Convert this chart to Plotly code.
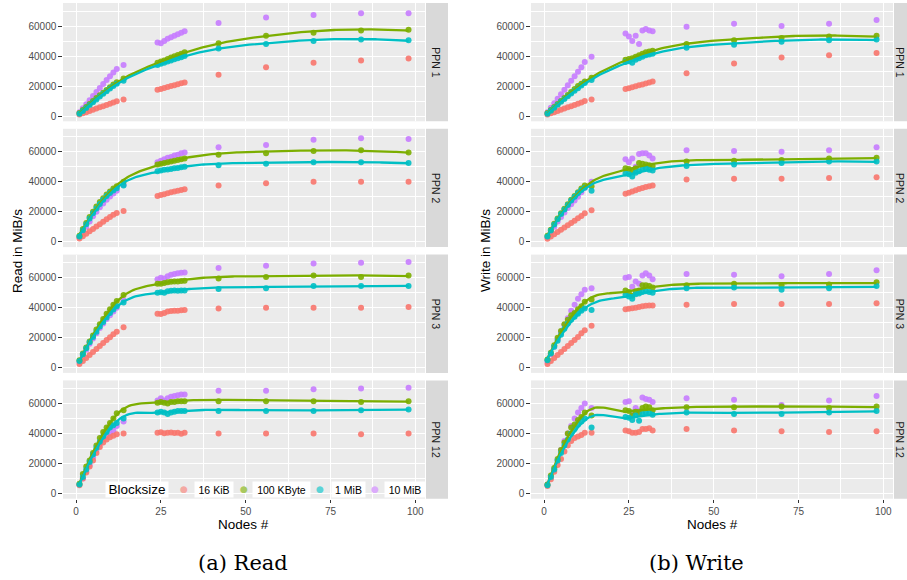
import numpy as np
import plotly.graph_objects as go

# ---------------- data ----------------
nodes = [1, 2, 3, 4, 5, 6, 7, 8, 9, 10, 11, 12, 14,
         24, 25, 26, 27, 28, 29, 30, 31, 32,
         42, 56, 70, 84, 98]
blocksizes = ["16 KiB", "100 KByte", "1 MiB", "10 MiB"]
ppn_labels = ["PPN 1", "PPN 2", "PPN 3", "PPN 12"]
x_ticks = [0, 25, 50, 75, 100]
y_ticks = [0, 20000, 40000, 60000]

# Read
read_ppn1_16k = [1000, 1800, 2600, 3400, 4200, 5000, 5800, 6600, 7400, 8200, 9000, 9800, 11000,
                 17500, 18000, 18700, 19300, 20000, 20600, 21200, 21800, 22400,
                 27500, 32500, 35500, 37000, 38300]
read_ppn1_100k = [2000, 4000, 6000, 8000, 10000, 12000, 13800, 15600, 17400, 19200, 21000, 22600, 25000,
                  35500, 36300, 37100, 38000, 39000, 39800, 40700, 41600, 42500,
                  48500, 53500, 55500, 57000, 57500]
read_ppn1_1m = [1500, 3400, 5400, 7300, 9200, 11100, 13000, 14800, 16600, 18400, 20100, 21500, 23500,
                34000, 34800, 35500, 36300, 37000, 37800, 38500, 39200, 40000,
                45000, 48000, 50000, 51000, 50500]
read_ppn1_10m = [2500, 5200, 7900, 10600, 13300, 16000, 18700, 21400, 24000, 26600, 29000, 31300, 34000,
                 49000, 48500, 50000, 51500, 52500, 53500, 54500, 55500, 56500,
                 62000, 65700, 67300, 68500, 68500]

read_ppn2_16k = [2200, 3800, 5400, 7000, 8600, 10200, 11800, 13400, 15000, 16500, 18000, 19300, 20500,
                 30500, 31200, 31800, 32400, 33000, 33600, 34100, 34600, 35100,
                 37500, 39000, 40000, 40000, 40000]
read_ppn2_100k = [4000, 8500, 12500, 16500, 20000, 23500, 26500, 29000, 31500, 33500, 35500, 37000, 40000,
                  51500, 52000, 52500, 53000, 53500, 54000, 54500, 55000, 55500,
                  58000, 59000, 60500, 61000, 59500]
read_ppn2_1m = [3500, 7800, 11800, 15600, 19000, 22300, 25300, 28000, 30500, 32500, 34300, 35800, 37500,
                47000, 47500, 48000, 48200, 48600, 49000, 49300, 49700, 50000,
                51000, 52000, 53000, 53000, 52500]
read_ppn2_10m = [3000, 6500, 10000, 13500, 17000, 20000, 23000, 25500, 28000, 30200, 32200, 34000, 38000,
                 53000, 54000, 55000, 56000, 56500, 57500, 58000, 59000, 59500,
                 63000, 64500, 68000, 69000, 68500]

read_ppn3_16k = [2500, 4500, 6500, 8500, 10500, 12500, 14500, 16500, 18500, 20300, 22200, 24000, 27000,
                 36000, 35800, 36500, 37500, 37800, 38000, 38000, 38200, 38500,
                 39500, 40000, 40000, 40000, 40500]
read_ppn3_100k = [5000, 9500, 13500, 17500, 21500, 25500, 29000, 32500, 36000, 39000, 42000, 44500, 48500,
                  56000, 56000, 56500, 57000, 57200, 57500, 57500, 57800, 58000,
                  59500, 60500, 61500, 60500, 61500]
read_ppn3_1m = [4500, 9000, 13000, 17000, 20500, 24000, 27500, 30500, 33500, 36500, 38800, 41000, 43500,
                50000, 50300, 50000, 51000, 51200, 51500, 51200, 51400, 51500,
                52500, 53000, 54500, 54500, 54500]
read_ppn3_10m = [4000, 8000, 12000, 16000, 19500, 23000, 26500, 29500, 32500, 35000, 37500, 40000, 45000,
                 59000, 60000, 59500, 61000, 62000, 62500, 63000, 63200, 63500,
                 66500, 68000, 69500, 70000, 70500]

read_ppn12_16k = [5500, 10000, 14000, 18000, 22000, 27000, 31000, 34000, 36000, 37500, 38500, 39500, 40000,
                  40500, 40800, 40200, 40500, 40600, 40300, 40400, 39800, 40500,
                  40000, 40000, 40000, 39500, 40000]
read_ppn12_100k = [6500, 13000, 18000, 22000, 27000, 32000, 37000, 41000, 44000, 47000, 50000, 53500, 55500,
                   60500, 61000, 60500, 60000, 61000, 61000, 61500, 61500, 61500,
                   61500, 61500, 61500, 61000, 61500]
read_ppn12_1m = [6000, 11000, 16000, 21000, 26000, 30500, 34500, 38000, 41000, 44000, 45500, 47000, 50000,
                 54000, 54500, 54000, 53000, 54000, 54500, 55000, 55000, 55000,
                 55000, 55000, 55000, 55500, 56000]
read_ppn12_10m = [6000, 10000, 15000, 19000, 24000, 29000, 33000, 36000, 38000, 40000, 42000, 45000, 48000,
                  62000, 63500, 62000, 63500, 64500, 65000, 65500, 66000, 66000,
                  68500, 68500, 69500, 70000, 70500]

# Write
write_ppn1_16k = [1000, 1800, 2600, 3400, 4200, 5000, 5800, 6600, 7400, 8200, 9100, 10000, 11000,
                  18000, 18600, 19200, 19800, 20500, 21100, 21700, 22300, 23000,
                  28500, 35000, 39000, 40500, 42000]
write_ppn1_100k = [2000, 4000, 6000, 8000, 10000, 12000, 14000, 16000, 18000, 20000, 21500, 23000, 25500,
                   37500, 38000, 38500, 39500, 40500, 41500, 42500, 43000, 43500,
                   48000, 50500, 52000, 53000, 53500]
write_ppn1_1m = [1500, 3500, 5500, 7500, 9500, 11300, 13200, 15000, 16800, 18600, 20300, 22000, 24000,
                 36000, 36500, 35500, 37500, 38500, 39500, 40500, 41000, 41500,
                 45500, 47500, 49500, 50500, 51000]
write_ppn1_10m = [2500, 5500, 8500, 11500, 14500, 17500, 20500, 23500, 26500, 29500, 32500, 36000, 39500,
                  55000, 53000, 50000, 53500, 48000, 57000, 58000, 57000, 56500,
                  59500, 61500, 60000, 61500, 64000]

write_ppn2_16k = [2000, 3500, 5000, 6500, 8000, 9500, 11000, 12500, 14000, 15700, 17300, 19000, 21000,
                  32000, 32800, 33600, 34400, 35200, 35900, 36500, 37000, 37500,
                  41500, 42000, 42000, 42500, 43000]
write_ppn2_100k = [4000, 8000, 12000, 15500, 19000, 22000, 25000, 28000, 30500, 33000, 35500, 37500, 37000,
                   49000, 48500, 47000, 49000, 52500, 52000, 51500, 51000, 50500,
                   53500, 54000, 54500, 55500, 56000]
write_ppn2_1m = [3500, 7500, 11500, 15000, 18500, 21500, 24500, 27500, 30000, 32500, 34500, 36000, 34000,
                 45500, 45000, 43500, 46000, 47000, 48500, 49000, 48000, 47500,
                 50500, 51500, 52500, 53500, 53500]
write_ppn2_10m = [3000, 6500, 10000, 13500, 16500, 19500, 22500, 25000, 27500, 30000, 33000, 36000, 40000,
                  55000, 53000, 55500, 50000, 58500, 59000, 59000, 57500, 55500,
                  61000, 60500, 60000, 61000, 63000]

write_ppn3_16k = [2500, 4500, 6500, 8500, 10500, 12500, 14500, 16500, 18500, 20500, 23000, 25000, 28000,
                  39000, 39300, 39600, 40000, 40500, 41000, 41200, 41500, 41500,
                  42000, 42500, 42500, 42500, 43000]
write_ppn3_100k = [5500, 10000, 15000, 20000, 24500, 29000, 32000, 35000, 36500, 39000, 41000, 44000, 45500,
                   51500, 50500, 48000, 51000, 51500, 55000, 55000, 54500, 53500,
                   55000, 56000, 55000, 55500, 57000]
write_ppn3_1m = [5000, 9500, 14000, 18000, 22000, 26000, 29500, 32000, 34000, 36000, 38000, 39500, 38500,
                 48500, 47500, 46000, 49000, 49500, 50500, 51000, 50500, 50000,
                 53000, 53500, 52000, 53000, 54500]
write_ppn3_10m = [4000, 9000, 14000, 19000, 24000, 28500, 33000, 38000, 42000, 46000, 49000, 52000, 53000,
                  60000, 60500, 54000, 57500, 56000, 61500, 63000, 61500, 59000,
                  62500, 62000, 61000, 62500, 65000]

write_ppn12_16k = [5000, 9500, 14500, 19000, 23000, 28000, 32000, 35000, 37000, 38000, 39000, 40500, 40500,
                   42000, 41500, 40500, 40500, 41000, 43000, 43000, 43500, 42000,
                   43000, 42000, 41500, 41000, 41500]
write_ppn12_100k = [6000, 12000, 17000, 23000, 29000, 34000, 40000, 44000, 46000, 49000, 51000, 54000, 52000,
                    55500, 55000, 52000, 54500, 53500, 57000, 58000, 57500, 55500,
                    57500, 57500, 58000, 57000, 58000]
write_ppn12_1m = [5500, 11000, 16000, 22000, 27000, 32000, 36000, 40000, 43000, 46000, 48000, 50000, 44000,
                  51000, 50500, 49000, 52000, 48500, 53000, 54000, 53500, 52500,
                  54000, 53000, 53000, 54000, 55000]
write_ppn12_10m = [6000, 11000, 16000, 22000, 29000, 35000, 40000, 45000, 50000, 54000, 57000, 60000, 57000,
                   61000, 61500, 54000, 57000, 55000, 64000, 63000, 62500, 61000,
                   63500, 62500, 59000, 62000, 65000]

read_data = [
    [read_ppn1_16k, read_ppn1_100k, read_ppn1_1m, read_ppn1_10m],
    [read_ppn2_16k, read_ppn2_100k, read_ppn2_1m, read_ppn2_10m],
    [read_ppn3_16k, read_ppn3_100k, read_ppn3_1m, read_ppn3_10m],
    [read_ppn12_16k, read_ppn12_100k, read_ppn12_1m, read_ppn12_10m],
]
write_data = [
    [write_ppn1_16k, write_ppn1_100k, write_ppn1_1m, write_ppn1_10m],
    [write_ppn2_16k, write_ppn2_100k, write_ppn2_1m, write_ppn2_10m],
    [write_ppn3_16k, write_ppn3_100k, write_ppn3_1m, write_ppn3_10m],
    [write_ppn12_16k, write_ppn12_100k, write_ppn12_1m, write_ppn12_10m],
]

# ---------------- style ----------------
colors = ["#F8766D", "#7CAE00", "#00BFC4", "#C77CFF"]
key_colors = ["#F4A8A2", "#A9C95E", "#5BD3D6", "#DBABFB"]
W, H = 907, 580
FONT = "Liberation Sans"


# ---------------- loess smoother (R-like: local quadratic + kd-tree interpolation) ----------------
def local_fit(x, y, x0, q):
    d = np.abs(x - x0)
    h = np.sort(d)[q - 1] * 1.0000001
    w = np.clip(1 - (d / h) ** 3, 0, None) ** 3
    A = np.vstack([np.ones(len(x)), x - x0, (x - x0) ** 2]).T
    sw = np.sqrt(w)
    coef, *_ = np.linalg.lstsq(A * sw[:, None], y * sw, rcond=None)
    return coef[0], coef[1]


def kd_vertices(xsorted, fc):
    lo, hi = xsorted[0], xsorted[-1]
    mu = 0.005 * (hi - lo)
    verts = {lo - mu, hi + mu}

    def split(l, u):
        if u - l + 1 <= fc:
            return
        m = (l + u) // 2
        v = (xsorted[m] + xsorted[m + 1]) / 2
        verts.add(v)
        split(l, m)
        split(m + 1, u)

    split(0, len(xsorted) - 1)
    return np.array(sorted(verts))


def loess(x, y, xs, span=0.75, cell=0.2):
    x = np.asarray(x, float)
    y = np.asarray(y, float)
    n = len(x)
    q = int(np.floor(n * span))
    fc = max(int(np.floor(n * span * cell)), 1)
    vx = kd_vertices(np.sort(x), fc)
    vv = np.array([local_fit(x, y, v, q) for v in vx])
    out = []
    for x0 in xs:
        i = min(max(np.searchsorted(vx, x0) - 1, 0), len(vx) - 2)
        a, b = vx[i], vx[i + 1]
        hh = b - a
        t = (x0 - a) / hh
        h00 = 2 * t ** 3 - 3 * t ** 2 + 1
        h10 = t ** 3 - 2 * t ** 2 + t
        h01 = -2 * t ** 3 + 3 * t ** 2
        h11 = t ** 3 - t ** 2
        out.append(h00 * vv[i, 0] + h10 * hh * vv[i, 1] + h01 * vv[i + 1, 0] + h11 * hh * vv[i + 1, 1])
    return np.array(out)


# panel geometry in pixels
col_x = [(63, 425), (531, 893)]
row_top0, row_h, row_gap = 3.0, 118.3, 7.5
rows_px = [(row_top0 + r * (row_h + row_gap), row_top0 + r * (row_h + row_gap) + row_h) for r in range(4)]
x_range = [-3.85, 102.85]
y_range = [-3500, 75370]

fig = go.Figure()
layout_axes = {}
annotations = []
shapes = []

xs_smooth = np.linspace(min(nodes), max(nodes), 160)
draw_order = [3, 0, 1, 2]


def ann(text, xpx, ypx, size, color="black", family=FONT, angle=0, **kw):
    d = dict(text=text, xref="paper", yref="paper", x=xpx / W, y=1 - ypx / H,
             xanchor="center", yanchor="middle", showarrow=False, textangle=angle,
             font=dict(family=family, size=size, color=color))
    d.update(kw)
    return d


for c, data in enumerate([read_data, write_data]):
    for r in range(4):
        idx = c * 4 + r + 1
        xa = "x" if idx == 1 else f"x{idx}"
        ya = "y" if idx == 1 else f"y{idx}"
        for s in draw_order:
            fig.add_trace(go.Scatter(
                x=nodes, y=data[r][s], mode="markers", xaxis=xa, yaxis=ya,
                marker=dict(color=colors[s], size=6, opacity=0.9, line=dict(width=0)),
                name=blocksizes[s], showlegend=False, hoverinfo="x+y+name"))
        for s in [1, 2]:
            ys = loess(nodes, data[r][s], xs_smooth)
            fig.add_trace(go.Scatter(
                x=xs_smooth, y=ys, mode="lines", xaxis=xa, yaxis=ya,
                line=dict(color=colors[s], width=2.3),
                name=blocksizes[s] + " (smooth)", showlegend=False, hoverinfo="skip"))

        x0, x1 = col_x[c]
        t, b = rows_px[r]
        xdom = [x0 / W, x1 / W]
        ydom = [1 - b / H, 1 - t / H]
        bottom = (r == 3)
        layout_axes["xaxis" if idx == 1 else f"xaxis{idx}"] = dict(
            domain=xdom, anchor=ya, range=x_range, tickvals=x_ticks,
            showticklabels=bottom, ticks="outside" if bottom else "", ticklen=3.7,
            tickwidth=1, tickcolor="#333333",
            tickfont=dict(family=FONT, size=10, color="#4D4D4D"),
            showgrid=True, gridcolor="white", gridwidth=1.1, zeroline=False,
            showline=False,
            minor=dict(dtick=12.5, tick0=0, showgrid=True, gridcolor="white", gridwidth=0.5, ticks=""))
        layout_axes["yaxis" if idx == 1 else f"yaxis{idx}"] = dict(
            domain=ydom, anchor=xa, range=y_range, tickvals=y_ticks, tickformat="d",
            ticks="outside", ticklen=3.7, tickwidth=1, tickcolor="#333333",
            tickfont=dict(family=FONT, size=10, color="#4D4D4D"),
            showgrid=True, gridcolor="white", gridwidth=1.1, zeroline=False,
            showline=False,
            minor=dict(dtick=10000, tick0=0, showgrid=True, gridcolor="white", gridwidth=0.5, ticks=""))

        # facet strip
        sx0, sx1 = x1 + 1, x1 + 23
        shapes.append(dict(type="rect", xref="paper", yref="paper",
                           x0=sx0 / W, x1=sx1 / W, y0=1 - b / H, y1=1 - t / H,
                           fillcolor="#D9D9D9", line=dict(width=0), layer="below"))
        strip_x = 900 if c == 1 else (sx0 + sx1) / 2 - 1
        annotations.append(ann(ppn_labels[r], strip_x, (t + b) / 2, 10.5,
                               color="#1A1A1A", angle=90))

# axis titles
for c, ytitle in enumerate(["Read in MiB/s", "Write in MiB/s"]):
    x0, x1 = col_x[c]
    annotations.append(ann("Nodes #", (x0 + x1) / 2, 524, 13.5))
    annotations.append(ann(ytitle, x0 - 46, 251, 13.5, angle=-90))

# captions
annotations.append(ann("(a) Read", 243, 563, 21, family="DejaVu Serif"))
annotations.append(ann("(b) Write", 696, 563, 21, family="DejaVu Serif"))

# legend (inside the bottom-left panel)
leg_y = 489.2
annotations.append(ann("Blocksize", 137, leg_y, 13.5, bgcolor="white", width=62, height=15, borderpad=0))
key_x = [184, 244, 320, 375]
label_box = [(195, 233), (253, 310), (332, 365), (385, 425)]
for s in range(4):
    annotations.append(ann("●", key_x[s], leg_y, 9, color=key_colors[s], family="DejaVu Sans"))
    lx0, lx1 = label_box[s]
    annotations.append(ann(blocksizes[s], (lx0 + lx1) / 2, leg_y, 10.5, bgcolor="white",
                           width=lx1 - lx0, height=15, borderpad=0))

fig.update_layout(
    width=W, height=H, autosize=False,
    margin=dict(l=0, r=0, t=0, b=0),
    paper_bgcolor="white", plot_bgcolor="#EBEBEB",
    showlegend=False,
    annotations=annotations, shapes=shapes,
    font=dict(family=FONT),
    **layout_axes)

fig.write_html("out.html",
               config={"displayModeBar": False},
               post_script="document.body.style.margin='0';document.body.style.padding='0';")
